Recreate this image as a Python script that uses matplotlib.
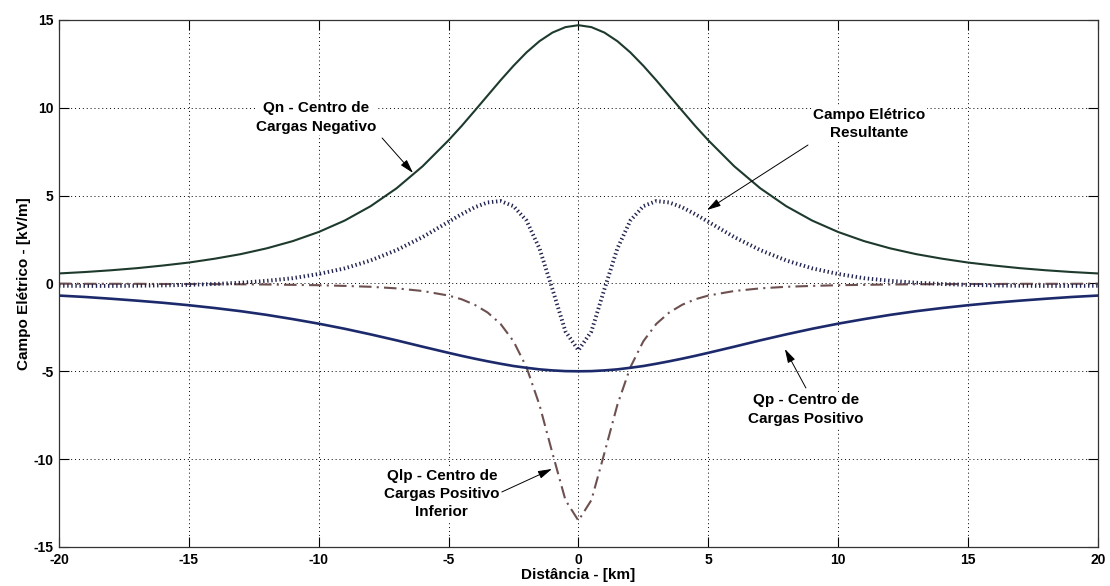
import matplotlib
matplotlib.use('Agg')
import matplotlib.pyplot as plt

plt.rcParams['font.family'] = ['Liberation Sans', 'DejaVu Sans']
plt.rcParams['font.weight'] = 'bold'
plt.rcParams['axes.labelweight'] = 'bold'
plt.rcParams['axes.unicode_minus'] = False

# distancia [km] e campos [kV/m]
dist = [-20, -19, -18, -17, -16, -15, -14, -13, -12, -11, -10, -9, -8, -7, -6, -5, -4.5, -4, -3.5, -3, -2.5, -2, -1.5, -1, -0.5, 0,
        0.5, 1, 1.5, 2, 2.5, 3, 3.5, 4, 4.5, 5, 6, 7, 8, 9, 10, 11, 12, 13, 14, 15, 16, 17, 18, 19, 20]

qn = [0.57, 0.65, 0.75, 0.87, 1.02, 1.19, 1.41, 1.67, 2.00, 2.41, 2.93, 3.58, 4.40, 5.42, 6.67, 8.15, 8.96, 9.82, 10.69, 11.56, 12.39, 13.15, 13.79, 14.28, 14.59, 14.70,
      14.59, 14.28, 13.79, 13.15, 12.39, 11.56, 10.69, 9.82, 8.96, 8.15, 6.67, 5.42, 4.40, 3.58, 2.93, 2.41, 2.00, 1.67, 1.41, 1.19, 1.02, 0.87, 0.75, 0.65, 0.57]

qp = [-0.69, -0.77, -0.87, -0.98, -1.10, -1.24, -1.40, -1.58, -1.79, -2.03, -2.29, -2.58, -2.90, -3.24, -3.60, -3.95, -4.12, -4.28, -4.43, -4.57, -4.70, -4.80, -4.89, -4.95, -4.99, -5.00,
      -4.99, -4.95, -4.89, -4.80, -4.70, -4.57, -4.43, -4.28, -4.12, -3.95, -3.60, -3.24, -2.90, -2.58, -2.29, -2.03, -1.79, -1.58, -1.40, -1.24, -1.10, -0.98, -0.87, -0.77, -0.69]

qlp = [-0.01, -0.02, -0.02, -0.02, -0.03, -0.03, -0.04, -0.05, -0.06, -0.08, -0.10, -0.14, -0.19, -0.28, -0.43, -0.69, -0.90, -1.21, -1.65, -2.30, -3.29, -4.77, -6.91, -9.66, -12.33, -13.50,
       -12.33, -9.66, -6.91, -4.77, -3.29, -2.30, -1.65, -1.21, -0.90, -0.69, -0.43, -0.28, -0.19, -0.14, -0.10, -0.08, -0.06, -0.05, -0.04, -0.03, -0.03, -0.02, -0.02, -0.02, -0.01]

res = [-0.13, -0.14, -0.14, -0.13, -0.11, -0.08, -0.03, 0.04, 0.15, 0.30, 0.54, 0.86, 1.31, 1.90, 2.64, 3.51, 3.94, 4.33, 4.61, 4.69, 4.40, 3.58, 1.99, -0.33, -2.73, -3.80,
       -2.73, -0.33, 1.99, 3.58, 4.40, 4.69, 4.61, 4.33, 3.94, 3.51, 2.64, 1.90, 1.31, 0.86, 0.54, 0.30, 0.15, 0.04, -0.03, -0.08, -0.11, -0.13, -0.14, -0.14, -0.13]

# textos das setas: (texto, posicao do texto, ponta da seta, inicio da seta)
notas = [
    ('Qn - Centro de\nCargas Negativo', (-10.1, 9.45), (-6.37, 6.29), (-7.56, 8.28)),
    ('Campo Elétrico\nResultante', (11.2, 9.08), (4.95, 4.18), (8.84, 7.88)),
    ('Qp - Centro de\nCargas Positivo', (8.76, -7.17), (7.95, -3.73), (8.76, -5.95)),
    ('Qlp - Centro de\nCargas Positivo\nInferior', (-5.26, -11.98), (-1.02, -10.56), (-2.95, -11.87)),
]

fig = plt.figure(figsize=(11.1, 5.86), dpi=100)
ax = fig.add_axes([0.0532, 0.0666, 0.9358, 0.8994])

ax.plot(dist, qlp, color='#6e5050', lw=1.5, linestyle=(0, (6, 2.5, 1, 2.5)))
ax.plot(dist, qp, color='#1c2a6c', lw=1.9)
ax.plot(dist, qn, color='#1d3a2c', lw=1.5)
ax.plot(dist, res, color='#22244f', lw=2.8, linestyle=(0, (0.35, 0.7)), dash_capstyle='butt')

ax.set_xlim(-20, 20)
ax.set_ylim(-15, 15)
ax.set_xticks(range(-20, 21, 5))
ax.set_yticks(range(-15, 16, 5))
ax.grid(True, color='k', lw=0.7, linestyle=(0, (1, 3)))
ax.tick_params(direction='in', top=True, right=True, length=7, width=0.8, labelsize=10, pad=4)
for s in ax.spines.values():
    s.set_color('#333333')
    s.set_linewidth(0.9)

ax.set_xlabel('Distância - [km]', fontsize=11, labelpad=1)
ax.set_ylabel('Campo Elétrico - [kV/m]', fontsize=11, labelpad=2)

for txt, pos, ponta, inicio in notas:
    ax.text(pos[0], pos[1], txt, ha='center', va='center', fontsize=11,
            linespacing=1.4, bbox=dict(facecolor='white', edgecolor='none', pad=1), zorder=5)
    ax.annotate('', xy=ponta, xytext=inicio,
                arrowprops=dict(arrowstyle='-|>,head_length=0.7,head_width=0.2', color='k',
                                lw=0.7, mutation_scale=12, shrinkA=0, shrinkB=0), zorder=6)

fig.savefig('out.png', dpi=100)
